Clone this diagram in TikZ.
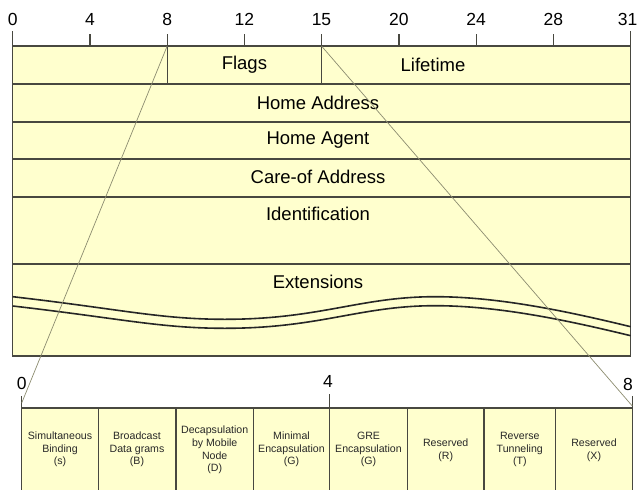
\documentclass[tikz,border=0pt]{standalone}
\usepackage{fontspec}
\setmainfont{Liberation Sans}
\definecolor{fieldfill}{RGB}{255,255,206}
\definecolor{border}{RGB}{72,72,64}
\definecolor{zoomline}{RGB}{140,140,112}
\definecolor{flagtext}{RGB}{40,40,40}
\begin{document}
\begin{tikzpicture}[x=1pt,y=-1pt,
  field/.style={draw=border, fill=fieldfill, line width=1.2pt},
  sepline/.style={draw=border, line width=1.2pt},
  fieldlabel/.style={font=\fontsize{18.5}{20}\selectfont, inner sep=0pt},
  bitnum/.style={font=\fontsize{17.5}{19}\selectfont, inner sep=0pt},
  flaglabel/.style={font=\fontsize{10.6}{12.6}\selectfont, align=center, text=flagtext, inner sep=0pt},
  ticks/.style={draw=border, line width=1.2pt},
  zoomln/.style={draw=zoomline, line width=0.7pt},
  wave/.style={draw=black!85, line width=1.6pt}]
\useasboundingbox (0,0) rectangle (638,490);

% ---------- top header ----------
\draw[field] (12.7,46) rectangle (630.7,356);
\foreach \yy in {84,122,159,197,264}
  \draw[sepline] (12.7,\yy) -- (630.7,\yy);
% ruler ticks
\draw[ticks] (12.7,31) -- (12.7,46);
\draw[ticks] (89.9,34) -- (89.9,46);
\draw[ticks] (167.2,34) -- (167.2,84);
\draw[ticks] (244.4,34) -- (244.4,46);
\draw[ticks] (321.5,34) -- (321.5,84);
\draw[ticks] (398.9,34) -- (398.9,46);
\draw[ticks] (476.1,34) -- (476.1,46);
\draw[ticks] (553.4,34) -- (553.4,46);
\draw[ticks] (630.7,31) -- (630.7,46);
% ruler numbers
\node[bitnum] (n0)  at (12.7,19.5) {0};
\node[bitnum] (n4)  at (89.9,19.5) {4};
\node[bitnum] (n8)  at (167.2,19.5) {8};
\node[bitnum] (n12) at (244.4,19.5) {12};
\node[bitnum] (n15) at (321.5,19.5) {15};
\node[bitnum] (n20) at (398.9,19.5) {20};
\node[bitnum] (n24) at (476.1,19.5) {24};
\node[bitnum] (n28) at (553.4,19.5) {28};
\node[bitnum, anchor=east] (n31) at (637.5,19.5) {31};

% field labels
\node[fieldlabel] (flags) at (244.4,65) {Flags};
\node[fieldlabel] (life)  at (433,65) {Lifetime};
\node[fieldlabel] (haddr) at (318,103) {Home Address};
\node[fieldlabel] (hagent) at (318,140) {Home Agent};
\node[fieldlabel] (coa)   at (318,177) {Care-of Address};
\node[fieldlabel] (ident) at (318,214) {Identification};
\node[fieldlabel] (ext)   at (318,282) {Extensions};

% wavy break lines
\draw[wave] (12.7,296.7) .. controls (120,309) and (160,319.3) .. (225,319.3)
  .. controls (320,319.3) and (360,296.7) .. (435,296.7)
  .. controls (500,296.7) and (570,312) .. (630.7,326.7);
\draw[wave] (12.7,306) .. controls (120,318.3) and (160,328.3) .. (225,328.3)
  .. controls (320,328.3) and (360,305.7) .. (435,305.7)
  .. controls (500,305.7) and (570,321) .. (630.7,335.7);

% ---------- flags detail ----------
\draw[field] (21.7,408) rectangle (632.3,493);
\foreach \xx in {98.3,176,253.3,329.7,407.3,484,555.7}
  \draw[sepline] (\xx,408) -- (\xx,493);
\draw[ticks] (21.7,396) -- (21.7,408);
\draw[ticks] (329.7,394) -- (329.7,408);
\draw[ticks] (632.3,396) -- (632.3,408);
\node[bitnum] (b0) at (21.7,383) {0};
\node[bitnum] (b4) at (328,381) {4};
\node[bitnum] (b8) at (628,384) {8};

\node[flaglabel] (fs) at (60,449.5) {Simultaneous\\Binding\\(s)};
\node[flaglabel] (fb) at (137,449.5) {Broadcast\\Data grams\\(B)};
\node[flaglabel] (fd) at (214.7,450) {Decapsulation\\by Mobile\\Node\\(D)};
\node[flaglabel] (fm) at (291.5,449.5) {Minimal\\Encapsulation\\(G)};
\node[flaglabel] (fg) at (368.5,449.5) {GRE\\Encapsulation\\(G)};
\node[flaglabel] (fr) at (445.7,450) {Reserved\\(R)};
\node[flaglabel] (ft) at (519.8,449.5) {Reverse\\Tunneling\\(T)};
\node[flaglabel] (fx) at (594,450) {Reserved\\(X)};

% zoom connectors
\coordinate (top8)  at (167.2,46);
\coordinate (top16) at (321.5,46);
\coordinate (bot0)  at (21.7,403);
\coordinate (bot8)  at (632.3,406);
\draw[zoomln] (top8) -- (bot0);
\draw[zoomln] (top16) -- (bot8);
\end{tikzpicture}
\end{document}
